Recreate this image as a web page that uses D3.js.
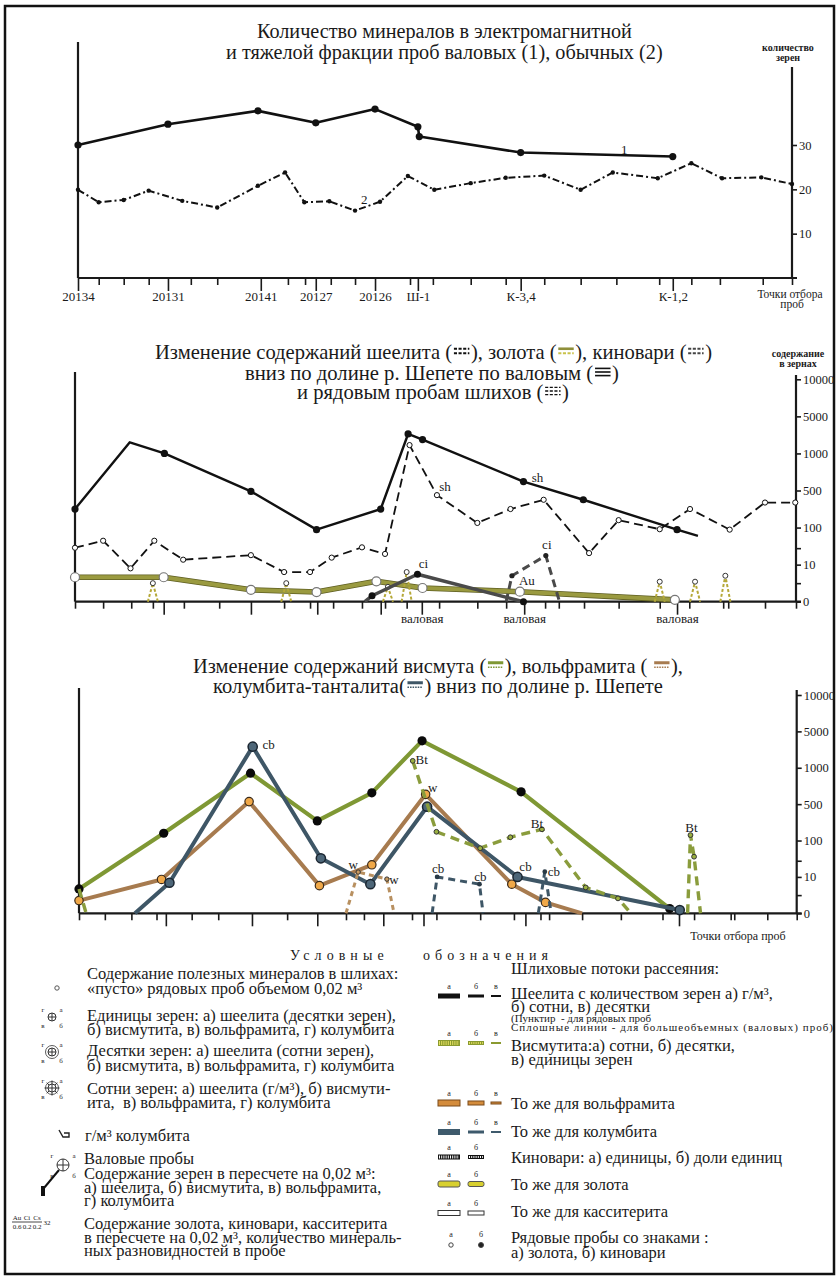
<!DOCTYPE html>
<html>
<head>
<meta charset="utf-8">
<script src="https://cdn.jsdelivr.net/npm/d3@7"></script>
<style>
  body { margin: 0; background: #fff; }
  svg { display: block; }
  svg text { font-family: "Liberation Serif", "Times New Roman", "Tinos", serif; }
</style>
</head>
<body>
<script>
// ---- top chart: number of minerals (grains) per sample ----
// x is position along the valley, 0..100 between the two axes
const topTicks = [0, 2.9, 6.4, 9.9, 12.6, 15.8, 19.5, 25.6, 29.4, 31.8, 33.3, 35.4, 38.8, 41.6, 46.5, 47.6, 49.7, 55.0, 59.9, 62.0, 65.3, 70.4, 75.4, 81.4, 83.3, 85.9, 89.9, 95.9, 100];
const topMajor = [0, 12.6, 25.6, 33.3, 41.6, 47.6, 62.0, 83.3];
const topMajorLabels = ["20134", "20131", "20141", "20127", "20126", "Ш-1", "К-3,4", "К-1,2"];
const topYTicks = [10, 20, 30];
const bulkCount = [[0, 30.0], [12.6, 34.7], [25.2, 37.7], [33.3, 35.0], [41.6, 38.1], [47.6, 34.1], [47.8, 31.9], [62.0, 28.3], [83.3, 27.4]];
const ordinaryCount = [[0, 19.9], [2.9, 17.1], [6.4, 17.6], [9.9, 19.7], [14.6, 17.4], [19.5, 15.9], [25.2, 20.8], [29.0, 23.8], [31.7, 17.1], [35.2, 17.3], [38.8, 15.2], [42.3, 17.2], [46.2, 23.0], [49.9, 19.9], [55.0, 21.4], [59.9, 22.6], [65.3, 23.1], [70.4, 19.9], [74.9, 23.8], [81.2, 22.5], [85.9, 25.9], [90.2, 22.5], [95.7, 22.7], [100, 21.2]];
const topLineLabels = [{ t: "1", u: 76.5, v: 28.9 }, { t: "2", u: 40.1, v: 17.6 }];

// ---- shared content scale (grains), equal steps between levels ----
const contentLevels = [0, 10, 100, 500, 1000, 5000, 10000];
const contentMinor = [5, 50];

// ---- middle chart: scheelite, gold, cinnabar ----
const midTicks = [0, 3.9, 7.8, 10.8, 12.3, 15.1, 20.0, 24.4, 29.0, 32.6, 33.6, 35.8, 39.8, 42.4, 43.0, 46.0, 48.1, 50.5, 55.8, 59.8, 62.3, 65.2, 67.1, 70.6, 75.4, 81.1, 83.5, 85.2, 89.9, 90.6, 95.7, 100];
const midMajor = [12.3, 24.4, 33.6, 42.4, 48.1, 62.3, 83.5];
const midMajorLabels = ["", "", "", "", "валовая", "валовая", "валовая"];
// [u, value, marker(0 = none)]
const shellBulk = [[0, 300], [7.6, 2200, 0], [12.4, 1000], [24.4, 490], [33.5, 95], [42.4, 300], [46.2, 3100], [48.2, 2500], [62.2, 620], [70.5, 400], [83.5, 95], [86.4, 80, 0]];
const shellRow = [[0, 51], [3.9, 68], [7.7, 9], [11.0, 68], [15.0, 22], [24.4, 33], [29.0, 8], [32.6, 8], [35.6, 27], [39.8, 52], [43.0, 36], [46.4, 1900], [50.2, 450], [55.8, 150], [60.4, 300], [65.0, 400], [71.3, 38], [75.4, 180], [81.1, 96], [85.3, 300], [90.8, 95], [95.7, 370], [99.9, 370]];
const goldBulk = [[0, 6.6], [12.3, 6.6], [24.4, 3.2], [33.5, 2.6], [41.8, 5.5], [48.2, 3.7], [61.7, 2.7], [83.2, 0.5]];
const goldRow = [[10.8, 5], [29.3, 5], [43.4, 4], [46.0, 8], [81.1, 5.4], [86.0, 5.4], [90.2, 7]];
const cinnBulk = [[40.2, 0, 0], [41.2, 1.6], [47.5, 7.4], [62.2, 0]];
const cinnRow = [[59.8, 0, 0], [60.6, 7], [65.3, 32], [67.2, 0, 0]];
const midLabels = [
  { t: "sh", u: 62.2, v: 620, dx: 14, dy: -4 },
  { t: "sh", u: 50.2, v: 450, dx: 8, dy: -9 },
  { t: "ci", u: 47.5, v: 7.4, dx: 6, dy: -11 },
  { t: "ci", u: 65.3, v: 32, dx: 1, dy: -11 },
  { t: "Au", u: 61.7, v: 2.7, dx: 7, dy: -11 }
];

// ---- bottom chart: bismuthite, wolframite, columbite ----
const botTicks = [0, 3.6, 7.3, 10.8, 12.1, 15.7, 19.4, 24.1, 29.0, 33.2, 37.2, 39.7, 42.4, 46.4, 48.0, 49.8, 55.9, 60.6, 62.2, 64.3, 65.5, 70.1, 75.5, 81.3, 83.6, 85.7, 90.8, 91.3, 95.9, 100];
const botMajor = [12.1, 24.1, 33.2, 42.4, 48.0, 62.2, 83.6];
const bismBulk = [[0, 6.7], [11.8, 180], [23.9, 925], [33.2, 316], [40.8, 655], [47.8, 3960], [61.6, 670], [82.3, 1.3]];
const wolfBulk = [[0, 3.5], [11.5, 9.3], [23.7, 535], [33.5, 7.6], [40.8, 40], [48.3, 635], [60.3, 8], [65.0, 3], [70.1, 0, 0]];
const colBulk = [[7.8, 0, 0], [12.6, 8.4], [24.2, 3320], [33.7, 56], [40.6, 8], [48.5, 472], [61.1, 10], [83.7, 0.9]];
const bismRow = [
  [[0, 6.7, 0], [1, 0, 0]],
  [[46.5, 1760], [49.8, 196], [55.9, 81], [60.1, 136], [64.5, 224], [70.6, 7.1], [75.1, 4.1], [76.9, 0, 0]],
  [[84.8, 0, 0], [85.2, 160], [85.7, 60], [86.6, 0, 0]]
];
const wolfRow = [[[37.2, 0, 0], [38.9, 22], [42.9, 9.4], [43.9, 0, 0]]];
const colRow = [[[49.2, 0, 0], [49.9, 10], [55.8, 8], [56.3, 0, 0]], [[64.0, 0, 0], [64.9, 23], [65.8, 0, 0]]];
const botLabels = [
  { t: "cb", u: 24.2, v: 3320, dx: 16, dy: -2 },
  { t: "Bt", u: 46.5, v: 1760, dx: 9, dy: -1 },
  { t: "w", u: 48.3, v: 635, dx: 7, dy: -7 },
  { t: "w", u: 38.9, v: 22, dx: -5, dy: -8 },
  { t: "w", u: 42.9, v: 9.4, dx: 7, dy: 0 },
  { t: "cb", u: 49.9, v: 10, dx: 1, dy: -8 },
  { t: "cb", u: 55.8, v: 8, dx: 1, dy: -8 },
  { t: "cb", u: 61.1, v: 10, dx: 8, dy: -10 },
  { t: "cb", u: 64.9, v: 23, dx: 9, dy: 0 },
  { t: "Bt", u: 64.5, v: 224, dx: -5, dy: -6 },
  { t: "Bt", u: 85.2, v: 160, dx: 1, dy: -8 }
];

// ---- legend texts ----
const legendLeft = [
  ["Содержание полезных минералов в шлихах:", "«пусто» рядовых проб объемом 0,02 м³"],
  ["Единицы зерен: а) шеелита (десятки зерен),", "б) висмутита, в) вольфрамита, г) колумбита"],
  ["Десятки зерен: а) шеелита (сотни зерен),", "б) висмутита, в) вольфрамита, г) колумбита"],
  ["Сотни зерен: а) шеелита (г/м³), б) висмути-", "ита,  в) вольфрамита, г) колумбита"],
  ["г/м³ колумбита"],
  ["Валовые пробы", "Содержание зерен в пересчете на 0,02 м³:", "а) шеелита, б) висмутита, в) вольфрамита,", "г) колумбита"],
  ["Содержание золота, киновари, касситерита", "в пересчете на 0,02 м³, количество минераль-", "ных разновидностей в пробе"]
];
const legendRight = [
  ["Шеелита с количеством зерен а) г/м³,", "б) сотни, в) десятки"],
  ["Висмутита:а) сотни, б) десятки,", "в) единицы зерен"],
  ["То же для вольфрамита"],
  ["То же для колумбита"],
  ["Киновари: а) единицы, б) доли единиц"],
  ["То же для золота"],
  ["То же для касситерита"],
  ["Рядовые пробы со знаками :", "а) золота, б) киновари"]
];
const legendNotes = ["(Пунктир  - для рядовых проб", "Сплошные линии - для большеобъемных (валовых) проб)"];

const ink = "#1a1a1a";
const C = { gold: "#8f8f3a", bi: "#7f9834", wo: "#a77b4f", co: "#3e5666", ci: "#4a4a4a" };

const svg = d3.select("body").append("svg")
  .attr("width", 840).attr("height", 1280)
  .style("font-family", '"Liberation Serif", "Times New Roman", serif');

svg.append("rect").attr("x", 5).attr("y", 6).attr("width", 829).attr("height", 1268)
  .attr("fill", "none").attr("stroke", "#111").attr("stroke-width", 2.5);

// small line-pattern icons used inside the titles
const iconStyle = {
  sh: [["#111", 2, "3,1.5"], ["#111", 2, "3,1.5"]],
  au: [[C.gold, 2.6, null], ["#c9c24a", 2, "3,1.5"]],
  ci: [["#444", 2, "3,1.5"], ["#444", 2, "3,1.5"]],
  bulk: [["#111", 1.6, null], ["#111", 1.6, null], ["#111", 1.6, null]],
  row: [["#111", 1.4, "3,1.5"], ["#111", 1.4, "3,1.5"], ["#111", 1.4, "3,1.5"]],
  bi: [[C.bi, 3, null], [C.bi, 1.6, "1.5,1"]],
  wo: [[C.wo, 3, null], [C.wo, 1.6, "1.5,1"]],
  co: [[C.co, 3, null], [C.co, 1.6, "1.5,1"]]
};

function drawIcon(g, type, x) {
  const ls = iconStyle[type];
  const gap = ls.length === 3 ? 3.6 : 4.5;
  const y0 = -1 - gap * (ls.length - 1) / 2;
  ls.forEach((l, i) => {
    g.append("line")
      .attr("x1", x).attr("x2", x + 15)
      .attr("y1", y0 + i * gap).attr("y2", y0 + i * gap)
      .attr("stroke", l[0]).attr("stroke-width", l[1])
      .attr("stroke-dasharray", l[2]);
  });
}

// title line made of text pieces and icons, squeezed to the measured width
function richLine(parts, cx, cy, width, size) {
  const g = svg.append("g");
  let x = 0;
  for (const p of parts) {
    if (typeof p === "string") {
      const t = g.append("text").attr("x", x).attr("y", 0)
        .attr("dominant-baseline", "central").attr("font-size", size)
        .style("white-space", "pre").attr("fill", ink).text(p);
      x += t.node().getComputedTextLength();
    } else {
      drawIcon(g, p.ic, x + 1.5);
      x += 18;
    }
  }
  g.attr("transform", `translate(${cx - width / 2},${cy}) scale(${width / x},1)`);
}

function xAxis(x, yPos, ticks, major, labels, labelOffset) {
  const g = svg.append("g").attr("transform", `translate(0,${yPos})`);
  g.append("g")
    .call(d3.axisBottom(x).tickValues(ticks.filter(t => !major.includes(t))).tickSize(7).tickFormat(""))
    .call(s => s.select(".domain").remove());
  const m = g.append("g")
    .call(d3.axisBottom(x).tickValues(major).tickSize(13).tickFormat((d, i) => labels ? labels[i] : ""))
    .attr("font-family", null).attr("font-size", 13);
  m.select(".domain").remove();
  m.selectAll("text").attr("y", labelOffset).attr("dy", null)
    .attr("dominant-baseline", "central").attr("fill", ink);
  g.selectAll(".tick line").attr("stroke", ink).attr("stroke-width", 1.6);
  g.append("line").attr("x1", x.range()[0]).attr("x2", x.range()[1] + 5)
    .attr("stroke", ink).attr("stroke-width", 2.2);
}

function yAxisRight(y, xPos, vals, fmt, top) {
  const g = svg.append("g").attr("transform", `translate(${xPos},0)`)
    .call(d3.axisRight(y).tickValues(vals).tickSize(5).tickPadding(2).tickFormat(fmt))
    .attr("font-family", null).attr("font-size", 12.5);
  g.select(".domain").remove();
  g.selectAll("text").attr("fill", ink);
  g.selectAll(".tick line").attr("stroke", ink).attr("stroke-width", 1.6);
  g.append("line").attr("y1", top).attr("y2", y(0)).attr("stroke", ink).attr("stroke-width", 2.2);
}

function leftAxis(x, y, top) {
  svg.append("line").attr("x1", x.range()[0]).attr("x2", x.range()[0])
    .attr("y1", top).attr("y2", y(0)).attr("stroke", ink).attr("stroke-width", 2.2);
}

function series(x, y, pts, st) {
  const line = d3.line().x(d => x(d[0])).y(d => y(d[1]));
  if (st.edge) {
    svg.append("path").datum(pts).attr("d", line).attr("fill", "none")
      .attr("stroke", st.edge).attr("stroke-width", st.w + 1.6).attr("stroke-linejoin", "round");
  }
  svg.append("path").datum(pts).attr("d", line).attr("fill", "none")
    .attr("stroke", st.c).attr("stroke-width", st.w)
    .attr("stroke-dasharray", st.dash || null).attr("stroke-linejoin", "round");
  if (st.r) {
    svg.append("g").selectAll("circle").data(pts.filter(d => d[2] !== 0)).join("circle")
      .attr("cx", d => x(d[0])).attr("cy", d => y(d[1])).attr("r", st.r)
      .attr("fill", st.f).attr("stroke", st.s || "none").attr("stroke-width", st.sw || 1);
  }
}

function pointLabels(x, y, arr, size) {
  svg.append("g").selectAll("text").data(arr).join("text")
    .attr("x", d => x(d.u) + (d.dx || 0)).attr("y", d => y(d.v) + (d.dy || 0))
    .attr("text-anchor", "middle").attr("dominant-baseline", "central")
    .attr("font-size", size).attr("fill", ink).text(d => d.t);
}

function smallText(x, y, s, size, bold) {
  return svg.append("text").attr("x", x).attr("y", y).attr("text-anchor", "middle")
    .attr("dominant-baseline", "central").attr("font-size", size)
    .attr("font-weight", bold ? "bold" : null).attr("fill", ink).text(s);
}

// ================= top chart =================
richLine(["Количество минералов в электромагнитной"], 444.5, 31, 375, 20);
richLine(["и тяжелой фракции проб валовых (1), обычных (2)"], 444.5, 52, 437, 20);

const xTop = d3.scaleLinear().domain([0, 100]).range([78, 792]);
const yTop = d3.scaleLinear().domain([0, 30]).range([278, 145]);

leftAxis(xTop, yTop, 42);
yAxisRight(yTop, 792, topYTicks, d3.format("d"), 67);
xAxis(xTop, yTop(0), topTicks, topMajor, topMajorLabels, 18);

smallText(788, 47, "количество", 10, true);
smallText(788, 57, "зерен", 10, true);
smallText(790, 294, "Точки отбора", 11.5);
smallText(792, 304, "проб", 11.5);

series(xTop, yTop, ordinaryCount, { c: "#111", w: 2, dash: "7,3,2,3", r: 2.2, f: "#111" });
series(xTop, yTop, bulkCount, { c: "#111", w: 2.6, r: 3.6, f: "#111" });
pointLabels(xTop, yTop, topLineLabels, 13);

// ================= middle chart =================
richLine(["Изменение содержаний шеелита (", { ic: "sh" }, "), золота (", { ic: "au" }, "), киновари (", { ic: "ci" }, ")"], 433.5, 352, 557, 20);
richLine(["вниз по долине р. Шепете по валовым (", { ic: "bulk" }, ")"], 432, 373, 374, 20);
richLine(["и рядовым пробам шлихов (", { ic: "row" }, ")"], 433, 392, 272, 20);

const levelY = (bottom, top) => contentLevels.map((d, i) => bottom - i * (bottom - top) / (contentLevels.length - 1));
const xMid = d3.scaleLinear().domain([0, 100]).range([75, 796]);
const yMid = d3.scaleLinear().domain(contentLevels).range(levelY(601.7, 379.3));
const contentFmt = d => contentMinor.includes(d) ? "" : d;
const contentTicks = [...contentLevels, ...contentMinor].sort((a, b) => a - b);

leftAxis(xMid, yMid, 372);
yAxisRight(yMid, 796, contentTicks, contentFmt, 375);
xAxis(xMid, yMid(0), midTicks, midMajor, midMajorLabels, 17);

smallText(798, 353, "содержание", 10, true);
smallText(798, 363, "в зернах", 10, true);

series(xMid, yMid, shellRow, { c: "#111", w: 1.8, dash: "9,5", r: 2.6, f: "#fff", s: "#111" });
series(xMid, yMid, goldBulk, { c: "#9a9a40", edge: "#5e5e22", w: 4, r: 4.5, f: "#fff", s: "#777", sw: 1.2 });
goldRow.forEach(p => {
  series(xMid, yMid, [[p[0] - 0.7, 0, 0], [p[0], p[1]], [p[0] + 0.7, 0, 0]],
    { c: "#b5a838", w: 2, dash: "3,2", r: 2.5, f: "#fff", s: "#333" });
});
series(xMid, yMid, cinnRow, { c: C.ci, w: 3, dash: "8,5", r: 2.6, f: "#222" });
series(xMid, yMid, cinnBulk, { c: C.ci, w: 3.5, r: 3.5, f: "#111" });
series(xMid, yMid, shellBulk, { c: "#111", w: 2.4, r: 3.6, f: "#111" });
pointLabels(xMid, yMid, midLabels, 13);

// ================= bottom chart =================
richLine(["Изменение содержаний висмута (", { ic: "bi" }, "), вольфрамита ( ", { ic: "wo" }, "),"], 438, 666, 490, 20);
richLine(["колумбита-танталита(", { ic: "co" }, ") вниз по долине р. Шепете"], 438, 686, 450, 20);

const xBot = d3.scaleLinear().domain([0, 100]).range([79, 796.7]);
const yBot = d3.scaleLinear().domain(contentLevels).range(levelY(913.3, 695));

leftAxis(xBot, yBot, 688);
yAxisRight(yBot, 796.7, contentTicks, contentFmt, 690);
xAxis(xBot, yBot(0), botTicks, botMajor, null, 17);

smallText(738, 936, "Точки отбора проб", 12);

series(xBot, yBot, bismBulk, { c: C.bi, w: 4.2, r: 4.6, f: "#0a0a0a" });
series(xBot, yBot, wolfBulk, { c: C.wo, w: 4, r: 4.2, f: "#f0a848", s: "#3a2a1a", sw: 1.2 });
series(xBot, yBot, colBulk, { c: C.co, w: 4, r: 4.6, f: "#4d6678", s: "#1a2530", sw: 1.5 });
bismRow.forEach(s => series(xBot, yBot, s, { c: "#8a9c3c", w: 3.4, dash: "9,6", r: 2.4, f: "#9ab040", s: "#333" }));
wolfRow.forEach(s => series(xBot, yBot, s, { c: "#b89060", w: 3, dash: "5,4", r: 2.2, f: "#c89a60", s: "#333" }));
colRow.forEach(s => series(xBot, yBot, s, { c: C.co, w: 3, dash: "7,5", r: 2.4, f: "#2a3a46" }));
pointLabels(xBot, yBot, botLabels, 13);

// ================= legend =================
svg.append("text").attr("x", 290).attr("y", 955).attr("dominant-baseline", "central")
  .attr("font-size", 14).attr("fill", ink).style("white-space", "pre")
  .attr("textLength", 258).attr("lengthAdjust", "spacing").text("Условные    обозначения");

const legendSize = 16.5;
const leftX = [87, 87, 87, 87, 85, 84, 84];
const leftY = [[973, 988], [1015, 1029], [1050, 1065], [1088, 1102], [1135], [1158, 1173, 1187, 1200], [1223, 1237, 1250]];
legendLeft.forEach((lines, i) => {
  lines.forEach((s, j) => {
    svg.append("text").attr("x", leftX[i]).attr("y", leftY[i][j]).attr("dominant-baseline", "central")
      .attr("font-size", legendSize).attr("fill", ink).style("white-space", "pre").text(s);
  });
});

function crossSym(cx, cy, r, level) {
  const g = svg.append("g").attr("stroke", "#333").attr("fill", "none");
  if (level === 3) {
    d3.range(8).forEach(k => {
      const a = k * Math.PI / 4;
      g.append("line").attr("x1", cx + Math.cos(a) * r).attr("y1", cy + Math.sin(a) * r)
        .attr("x2", cx + Math.cos(a) * (r + 3.5)).attr("y2", cy + Math.sin(a) * (r + 3.5)).attr("stroke-width", 1);
    });
  }
  if (level >= 2) g.append("circle").attr("cx", cx).attr("cy", cy).attr("r", r + 2.5).attr("stroke-width", 0.8);
  g.append("circle").attr("cx", cx).attr("cy", cy).attr("r", r).attr("fill", "#fff").attr("stroke-width", 1);
  g.append("line").attr("x1", cx - r).attr("x2", cx + r).attr("y1", cy).attr("y2", cy);
  g.append("line").attr("x1", cx).attr("x2", cx).attr("y1", cy - r).attr("y2", cy + r);
  const off = r + 5;
  [["г", -off, -off + 2], ["а", off, -off + 2], ["в", -off, off], ["б", off, off]].forEach(l => {
    smallText(cx + l[1], cy + l[2], l[0], 7);
  });
}

svg.append("circle").attr("cx", 57).attr("cy", 988).attr("r", 2.2).attr("fill", "#fff").attr("stroke", "#555");
crossSym(52, 1017, 4, 1);
crossSym(52, 1052, 4, 2);
crossSym(52, 1088, 4, 3);
svg.append("path").attr("d", "M59,1130 L63,1137 H69 V1133 H64").attr("fill", "none")
  .attr("stroke", "#222").attr("stroke-width", 1.4);
crossSym(63, 1165, 6, 1);
svg.append("line").attr("x1", 59).attr("y1", 1170).attr("x2", 44).attr("y2", 1188)
  .attr("stroke", "#111").attr("stroke-width", 2);
svg.append("rect").attr("x", 41).attr("y", 1186).attr("width", 4).attr("height", 10).attr("fill", "#111");
[["Au", 17], ["Ci", 27], ["Cs", 37]].forEach(d => smallText(d[1], 1218, d[0], 7));
svg.append("line").attr("x1", 12).attr("x2", 42).attr("y1", 1222).attr("y2", 1222).attr("stroke", ink).attr("stroke-width", 0.8);
[["0.6", 17], ["0.2", 27], ["0.2", 37]].forEach(d => smallText(d[1], 1227, d[0], 7));
smallText(47, 1223, "32", 7);

// right legend column
svg.append("text").attr("x", 511).attr("y", 968).attr("dominant-baseline", "central")
  .attr("font-size", legendSize).attr("fill", ink).text("Шлиховые потоки рассеяния:");
const rightY = [[993, 1006], [1045, 1059], [1103], [1131], [1157], [1184], [1211], [1237, 1252]];
legendRight.forEach((lines, i) => {
  lines.forEach((s, j) => {
    svg.append("text").attr("x", 511).attr("y", rightY[i][j]).attr("dominant-baseline", "central")
      .attr("font-size", legendSize).attr("fill", ink).text(s);
  });
});
svg.append("text").attr("x", 511).attr("y", 1018).attr("dominant-baseline", "central")
  .attr("font-size", 11).attr("fill", ink).style("white-space", "pre").text(legendNotes[0]);
svg.append("text").attr("x", 511).attr("y", 1027).attr("dominant-baseline", "central")
  .attr("font-size", 11).attr("fill", ink).attr("textLength", 322).attr("lengthAdjust", "spacing")
  .text(legendNotes[1]);

const barCx = [449, 476, 496];
const barW = [22, 16, 10];
const barRows = [
  { y: 996, h: [5, 3, 2], fill: "#111", stroke: "none" },
  { y: 1043, h: [6, 4, 2], fill: "#8a9a30", stroke: "none", hatch: "#e4e060" },
  { y: 1103, h: [6, 4, 2], fill: "#d48c3c", stroke: "#7a4a1a" },
  { y: 1132, h: [6, 3, 2], fill: "#3e5a6c", stroke: "none" },
  { y: 1157, h: [5, 4], fill: "#111", stroke: "none", hatch: "#fff" },
  { y: 1184, h: [6, 5], fill: "#d8d030", stroke: "#555", rx: 2 },
  { y: 1213, h: [5, 4], fill: "#fff", stroke: "#333" }
];
barRows.forEach(row => {
  row.h.forEach((h, k) => {
    svg.append("rect").attr("x", barCx[k] - barW[k] / 2).attr("y", row.y - h / 2)
      .attr("width", barW[k]).attr("height", h).attr("rx", row.rx || 0)
      .attr("fill", row.fill).attr("stroke", row.stroke).attr("stroke-width", 1);
    if (row.hatch && h >= 4) {
      svg.append("line").attr("x1", barCx[k] - barW[k] / 2 + 1).attr("x2", barCx[k] + barW[k] / 2 - 1)
        .attr("y1", row.y).attr("y2", row.y).attr("stroke", row.hatch)
        .attr("stroke-width", h - 2).attr("stroke-dasharray", "1,1.2");
    }
    smallText(barCx[k], row.y - 10, "абв"[k], 8);
  });
});
svg.append("circle").attr("cx", barCx[0] + 2).attr("cy", 1245).attr("r", 2.2).attr("fill", "#fff").attr("stroke", "#444");
svg.append("circle").attr("cx", barCx[1] + 5).attr("cy", 1245).attr("r", 2.5).attr("fill", "#222").attr("stroke", "#444");
smallText(barCx[0] + 2, 1234, "а", 8);
smallText(barCx[1] + 5, 1234, "б", 8);
</script>
</body>
</html>
